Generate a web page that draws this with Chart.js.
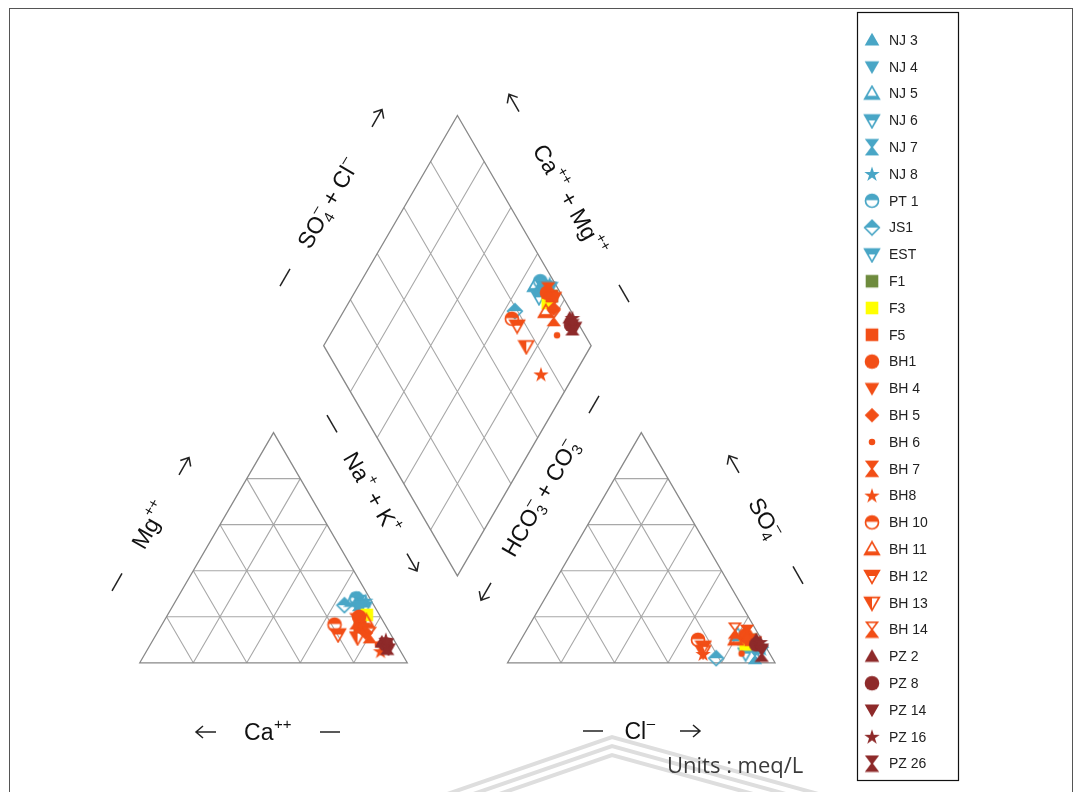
<!DOCTYPE html>
<html>
<head>
<meta charset="utf-8">
<script src="https://cdn.jsdelivr.net/npm/chart.js@4.4.1/dist/chart.umd.min.js"></script>
<style>
  html, body { margin: 0; padding: 0; background: #fff; }
  canvas { display: block; }
</style>
</head>
<body>
<canvas id="piper" width="1081" height="792"></canvas>
<script>
// sample names, in legend order
const samples = ['NJ 3', 'NJ 4', 'NJ 5', 'NJ 6', 'NJ 7', 'NJ 8', 'PT 1', 'JS1', 'EST',
  'F1', 'F3', 'F5', 'BH1', 'BH 4', 'BH 5', 'BH 6', 'BH 7', 'BH8', 'BH 10', 'BH 11',
  'BH 12', 'BH 13', 'BH 14', 'PZ 2', 'PZ 8', 'PZ 14', 'PZ 16', 'PZ 26'];

// cations, % of meq/L
const caPct  = [4, 5, 7, 4, 5, 2, 5, 11, 6, 9.8, 4.7, 9.8, 8, 9, 9, 7, 10, 7.5, 18.9, 6.3, 19.7, 13.1, 8, 5, 4, 4, 3, 4];
const mgPct  = [28, 25, 27, 24, 26, 27, 28, 25, 24, 15.7, 20.8, 15.7, 20, 15, 13, 8, 18, 5, 16.6, 18, 12.3, 11, 12, 9, 8, 6, 10, 7];
const naKPct = [68, 70, 66, 72, 69, 71, 67, 64, 70, 74.5, 74.5, 74.5, 72, 76, 78, 85, 72, 87.5, 64.5, 75.7, 68, 75.9, 80, 86, 88, 90, 87, 89];

// anions, % of meq/L
const hco3Pct = [6.5, 4, 8, 3, 6, 2, 5, 21, 9, 4, 7, 4, 5, 3, 6, 10.5, 4, 25, 23.8, 9.6, 23.3, 24.4, 8, 2, 3, 2, 1, 3];
const so4Pct  = [10, 8, 12, 5, 3, 6, 9, 2, 4, 10, 8, 10, 12, 9, 11, 4, 13, 3.8, 10, 10.2, 7, 5, 14, 10, 8, 6, 9, 4];
const clPct   = [83.5, 88, 80, 92, 91, 92, 86, 77, 87, 86, 85, 86, 83, 88, 83, 85.5, 83, 71.2, 66.2, 80.2, 69.7, 70.6, 78, 88, 89, 92, 90, 93];

// plot layout (triangle side = 100 units)
const SCALE = 2.72;                 // px per unit
const X_MIN = -133 / SCALE;
const X_MAX = X_MIN + 1081 / SCALE;
const Y_MAX = 669 / SCALE;
const Y_MIN = Y_MAX - 792 / SCALE;
const H = Math.sqrt(3) / 2;
const RIGHT_OFF = 137.5;            // left edge of anion triangle
const DIA_X = (100 + RIGHT_OFF) / 2; // diamond bottom vertex
const DIA_Y = 32.7;

function cationXY(nak, mg) { return { x: nak + mg / 2, y: mg * H }; }
function anionXY(cl, so4) { return { x: RIGHT_OFF + cl + so4 / 2, y: so4 * H }; }
function diamondXY(a, b) { return { x: DIA_X + 0.5 * a - 0.5 * b, y: DIA_Y + H * (a + b) }; }

// marker styles
const CYAN = '#49A6C6', ORANGE = '#F24E16', DARK = '#8E2A2A';
const legendStyle = [
  ['triUp', CYAN], ['triDown', CYAN], ['triUpOpen', CYAN], ['triDownHalf', CYAN], ['hourglass', CYAN],
  ['star', CYAN], ['circleHalf', CYAN], ['diamondHalf', CYAN], ['triDownHalf', CYAN],
  ['square', '#6E8B3D'], ['square', '#FFFF00'], ['square', ORANGE],
  ['circle', ORANGE], ['triDown', ORANGE], ['diamond', ORANGE], ['circleSmall', ORANGE], ['hourglass', ORANGE],
  ['star', ORANGE], ['circleHalf', ORANGE], ['triUpOpen', ORANGE], ['triDownHalf', ORANGE], ['triDownLeft', ORANGE],
  ['hourglassOpen', ORANGE],
  ['triUp', DARK], ['circle', DARK], ['triDown', DARK], ['star', DARK], ['hourglass', DARK]
];

function makeMarker(shape, color) {
  const s = 18;
  const c = document.createElement('canvas');
  c.width = s; c.height = s;
  const g = c.getContext('2d');
  const m = s / 2, r = 7.3;
  g.fillStyle = color; g.strokeStyle = color; g.lineWidth = 1.7;
  const triUp = () => { g.beginPath(); g.moveTo(m, m - r); g.lineTo(m + r, m + r * 0.75); g.lineTo(m - r, m + r * 0.75); g.closePath(); };
  const triDown = () => { g.beginPath(); g.moveTo(m, m + r); g.lineTo(m + r, m - r * 0.75); g.lineTo(m - r, m - r * 0.75); g.closePath(); };
  const dia = () => { g.beginPath(); g.moveTo(m, m - r); g.lineTo(m + r, m); g.lineTo(m, m + r); g.lineTo(m - r, m); g.closePath(); };
  const circ = (rr) => { g.beginPath(); g.arc(m, m, rr, 0, Math.PI * 2); };
  const glass = () => { g.beginPath(); g.moveTo(m - r * 0.75, m - r); g.lineTo(m + r * 0.75, m - r); g.lineTo(m - r * 0.75, m + r); g.lineTo(m + r * 0.75, m + r); g.closePath(); };
  const partFill = (path, x, y, w, h) => { g.save(); path(); g.clip(); g.fillRect(x, y, w, h); g.restore(); path(); g.stroke(); };
  switch (shape) {
    case 'triUp': triUp(); g.fill(); break;
    case 'triDown': triDown(); g.fill(); break;
    case 'triUpOpen': partFill(triUp, 0, m + r * 0.3, s, s); break;
    case 'triDownHalf': partFill(triDown, 0, 0, s, m); break;
    case 'triDownLeft': partFill(triDown, 0, 0, m, s); break;
    case 'hourglass': glass(); g.fill(); g.stroke(); break;
    case 'hourglassOpen': partFill(glass, 0, m, s, s); break;
    case 'star':
      g.beginPath();
      for (let k = 0; k < 10; k++) {
        const rr = k % 2 === 0 ? r + 0.8 : r * 0.42;
        const a = -Math.PI / 2 + k * Math.PI / 5;
        g.lineTo(m + rr * Math.cos(a), m + 0.5 + rr * Math.sin(a));
      }
      g.closePath(); g.fill(); break;
    case 'circleHalf': partFill(() => circ(r - 0.8), 0, 0, s, m - 0.6); break;
    case 'diamondHalf': partFill(dia, 0, 0, s, m); break;
    case 'square': g.fillRect(m - r + 1, m - r + 1, 2 * r - 2, 2 * r - 2); break;
    case 'circle': circ(r); g.fill(); break;
    case 'circleSmall': circ(r * 0.45); g.fill(); break;
    case 'diamond': dia(); g.fill(); break;
  }
  return c;
}

const markers = legendStyle.map(st => makeMarker(st[0], st[1]));

// later samples are drawn on top (lower order = drawn later)
const datasets = samples.map((name, i) => ({
  label: name,
  data: [
    cationXY(naKPct[i], mgPct[i]),
    anionXY(clPct[i], so4Pct[i]),
    diamondXY(clPct[i] + so4Pct[i], caPct[i] + mgPct[i])
  ],
  order: samples.length - i,
  pointStyle: markers[i],
  pointRadius: 8,
  showLine: false,
  clip: false
}));

// triangles and diamond grid
const gridPlugin = {
  id: 'piperGrid',
  beforeDatasetsDraw(chart) {
    const ctx = chart.ctx, xs = chart.scales.x, ys = chart.scales.y;
    const P = p => [xs.getPixelForValue(p.x), ys.getPixelForValue(p.y)];
    const seg = (p, q) => { const a = P(p), b = P(q); ctx.moveTo(a[0], a[1]); ctx.lineTo(b[0], b[1]); };
    ctx.save();

    // watermark chevrons
    ctx.strokeStyle = '#dedede'; ctx.lineWidth = 4;
    for (let k = 0; k < 3; k++) {
      ctx.beginPath();
      ctx.moveTo(430, 800 + k * 9); ctx.lineTo(612, 737 + k * 9); ctx.lineTo(840, 800 + k * 9);
      ctx.stroke();
    }

    ctx.strokeStyle = '#a8a8a8'; ctx.lineWidth = 1.1;
    ctx.beginPath();
    [20, 40, 60, 80].forEach(g => {
      seg(cationXY(0, g), cationXY(100 - g, g));
      seg(cationXY(g, 0), cationXY(g, 100 - g));
      seg(cationXY(100 - g, 0), cationXY(0, 100 - g));
      seg(anionXY(0, g), anionXY(100 - g, g));
      seg(anionXY(g, 0), anionXY(g, 100 - g));
      seg(anionXY(100 - g, 0), anionXY(0, 100 - g));
      seg(diamondXY(g, 0), diamondXY(g, 100));
      seg(diamondXY(0, g), diamondXY(100, g));
    });
    ctx.stroke();

    ctx.strokeStyle = '#888'; ctx.lineWidth = 1.3;
    const poly = pts => { ctx.beginPath(); pts.forEach((p, k) => { const a = P(p); k ? ctx.lineTo(a[0], a[1]) : ctx.moveTo(a[0], a[1]); }); ctx.closePath(); ctx.stroke(); };
    poly([cationXY(0, 0), cationXY(100, 0), cationXY(0, 100)]);
    poly([anionXY(0, 0), anionXY(100, 0), anionXY(0, 100)]);
    poly([diamondXY(0, 0), diamondXY(100, 0), diamondXY(100, 100), diamondXY(0, 100)]);
    ctx.restore();
  }
};

// rotated axis titles with sub/superscripts
const MAIN_FONT = '23px "Liberation Sans", Arial, sans-serif';
const SMALL_FONT = '15px "Liberation Sans", Arial, sans-serif';

function drawTitle(ctx, cx, cy, deg, parts, dashOff, arrowOff, arrowDir) {
  ctx.save();
  ctx.translate(cx, cy);
  ctx.rotate(deg * Math.PI / 180);
  ctx.fillStyle = '#111'; ctx.strokeStyle = '#222'; ctx.textBaseline = 'alphabetic'; ctx.textAlign = 'left';
  const widths = parts.map(p => {
    if (p.t) { ctx.font = MAIN_FONT; return ctx.measureText(p.t).width; }
    ctx.font = SMALL_FONT;
    return Math.max(p.sup ? ctx.measureText(p.sup).width : 0, p.sub ? ctx.measureText(p.sub).width : 0) + 1;
  });
  let x = -widths.reduce((a, b) => a + b, 0) / 2;
  parts.forEach((p, k) => {
    if (p.t) { ctx.font = MAIN_FONT; ctx.fillText(p.t, x, 8); }
    else {
      ctx.font = SMALL_FONT;
      if (p.sup) ctx.fillText(p.sup, x + 0.5, -3);
      if (p.sub) ctx.fillText(p.sub, x + 0.5, 13);
    }
    x += widths[k];
  });
  // dash
  ctx.lineWidth = 1.5;
  ctx.beginPath(); ctx.moveTo(dashOff - 10, 0); ctx.lineTo(dashOff + 10, 0); ctx.stroke();
  // open arrow
  const tip = arrowOff + arrowDir * 10;
  ctx.beginPath();
  ctx.moveTo(arrowOff - arrowDir * 10, 0); ctx.lineTo(tip, 0);
  ctx.moveTo(tip - arrowDir * 7, -6); ctx.lineTo(tip, 0); ctx.lineTo(tip - arrowDir * 7, 6);
  ctx.stroke();
  ctx.restore();
}

const titlePlugin = {
  id: 'piperTitles',
  afterDraw(chart) {
    const ctx = chart.ctx;
    drawTitle(ctx, 150, 525, -60, [{ t: 'Mg' }, { sup: '++' }], -66, 68, 1);
    drawTitle(ctx, 328, 203, -60, [{ t: 'SO' }, { sub: '4', sup: '\u2013' }, { t: ' + Cl' }, { sup: '\u2013' }], -86, 98, 1);
    drawTitle(ctx, 570, 200, 60, [{ t: 'Ca' }, { sup: '++' }, { t: ' + Mg' }, { sup: '++' }], 108, -112, -1);
    drawTitle(ctx, 372, 493, 60, [{ t: 'Na' }, { sup: '+' }, { t: ' + K' }, { sup: '+' }], -80, 80, 1);
    drawTitle(ctx, 540, 498, -60, [{ t: 'HCO' }, { sub: '3', sup: '\u2013' }, { t: ' + CO' }, { sub: '3', sup: '\u2013' }], 108, -108, -1);
    drawTitle(ctx, 765, 518, 60, [{ t: 'SO' }, { sub: '4', sup: '\u2013' }], 66, -62, -1);
    drawTitle(ctx, 268, 732, 0, [{ t: 'Ca' }, { sup: '++' }], 62, -62, -1);
    drawTitle(ctx, 640, 731, 0, [{ t: 'Cl' }, { sup: '\u2013' }], -47, 50, 1);

    ctx.save();
    ctx.fillStyle = '#3a3a3a';
    ctx.font = '22px "Open Sans", "DejaVu Sans", sans-serif';
    ctx.textBaseline = 'alphabetic';
    ctx.fillText('Units : meq/L', 667, 773);
    ctx.restore();
  }
};

// boxed legend on the right
const legendPlugin = {
  id: 'boxLegend',
  afterDraw(chart) {
    const ctx = chart.ctx;
    ctx.save();
    ctx.strokeStyle = '#555'; ctx.lineWidth = 1;
    ctx.strokeRect(9.5, 8.5, 1063, 800);
    ctx.strokeStyle = '#111'; ctx.lineWidth = 1.2;
    ctx.strokeRect(857.5, 12.5, 101, 768);
    ctx.font = '14px "Liberation Sans", Arial, sans-serif';
    ctx.fillStyle = '#222'; ctx.textBaseline = 'middle';
    chart.data.datasets.forEach((ds, i) => {
      const y = 40 + i * 26.8;
      const img = ds.pointStyle;
      ctx.drawImage(img, 872 - img.width / 2, y - img.height / 2);
      ctx.fillText(ds.label, 889, y + 1);
    });
    ctx.restore();
  }
};

new Chart(document.getElementById('piper').getContext('2d'), {
  type: 'scatter',
  data: { datasets: datasets },
  options: {
    responsive: false,
    animation: false,
    devicePixelRatio: 1,
    events: [],
    layout: { padding: 0 },
    plugins: { legend: { display: false }, tooltip: { enabled: false } },
    scales: {
      x: { type: 'linear', display: false, min: X_MIN, max: X_MAX },
      y: { type: 'linear', display: false, min: Y_MIN, max: Y_MAX }
    }
  },
  plugins: [gridPlugin, titlePlugin, legendPlugin]
});
</script>
</body>
</html>
